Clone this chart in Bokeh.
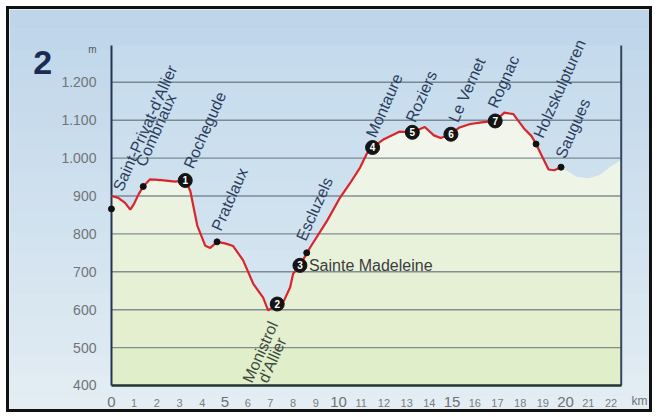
import numpy as np
from bokeh.plotting import figure
from bokeh.models import Range1d, FixedTicker, LinearAxis, Label, LabelSet, ColumnDataSource
from bokeh.core.properties import value
from bokeh.embed import file_html
from bokeh.resources import INLINE

# ---------------- data ----------------
stage_title = "2"
profile_km = [0.0, 0.3, 0.6, 0.83, 1.0, 1.2, 1.4, 1.7, 2.2, 2.8,
              3.25, 3.47, 3.78, 4.13, 4.35, 4.65, 5.0, 5.36, 5.8, 6.24,
              6.68, 6.9, 7.1, 7.3, 7.6, 7.87, 8.0, 8.3, 8.75, 9.5,
              10.07, 10.5, 10.95, 11.25, 11.5, 12.0, 12.7, 13.25, 13.8, 14.2,
              14.5, 14.95, 15.3, 15.8, 16.4, 16.9, 17.3, 17.7, 18.2, 18.5,
              18.7, 19.0, 19.25, 19.5, 19.8]
profile_elev = [900, 895, 882, 864, 880, 905, 925, 944, 942, 938,
                941, 914, 822, 769, 763, 779, 775, 768, 730, 669,
                632, 598, 606, 615, 624, 659, 695, 717, 764, 835,
                896, 933, 975, 1012, 1028, 1050, 1070, 1068, 1082, 1060,
                1053, 1063, 1080, 1090, 1095, 1098, 1120, 1116, 1076, 1058,
                1037, 1000, 970, 968, 976]
# terrain shading continuing after the end of the stage
tail_km = [20.0, 20.5, 21.0, 21.5, 22.0, 22.45]
tail_elev = [968, 950, 946, 955, 978, 995]

stage_numbers = ["1", "2", "3", "4", "5", "6", "7"]
stage_km = [3.25, 7.3, 8.3, 11.5, 13.25, 14.95, 16.9]
stage_elev = [941, 615, 717, 1028, 1068, 1063, 1098]

dot_km = [0.0, 1.4, 4.65, 8.6, 18.7, 19.8]
dot_elev = [866, 925, 779, 750, 1037, 976]

place_names = ["Saint-Privat-d'Allier", "Combriaux", "Rochegude", "Pratclaux",
               "Escluzels", "Montaure", "Roziers", "Le Vernet", "Rognac",
               "Holzskulpturen", "Saugues"]
place_km = [0.0, 1.4, 3.25, 4.65, 8.6, 11.5, 13.25, 14.95, 16.9, 18.7, 19.8]
place_elev = [866, 925, 941, 779, 750, 1028, 1068, 1063, 1098, 1037, 976]

madeleine_name = "Sainte Madeleine"
monistrol_lines = ["Monistrol", "d'Allier"]

x_ticks = list(range(0, 23))
x_big_ticks = [0, 5, 10, 15, 20]
x_small_ticks = [t for t in x_ticks if t not in x_big_ticks]
y_ticks = [400, 500, 600, 700, 800, 900, 1000, 1100, 1200]
y_tick_labels = ["400", "500", "600", "700", "800", "900", "1.000", "1.100", "1.200"]
Y_TOP = 1297          # top of the elevation scale
X_RIGHT = 22.45       # right edge of the diagram

# ---------------- layout / style ----------------
# the frame covers the whole canvas; axes are pinned inside it
X0, X1 = -4.49, 23.96
Y0, Y1 = 320.8, 1392.1
LABEL_ANGLE = np.deg2rad(66)
label_dx = [6, -3, 3, -1, -6, -2, -2, 2, -3, 2, -1]
label_dy = [19, 21, 13, 12, 13, 11, 11, 13, 14, 7, 10]
FONT = "Liberation Sans"


def hex2rgb(h):
    h = h.lstrip("#")
    return [int(h[i:i + 2], 16) for i in (0, 2, 4)]


def mix(c1, c2, t):
    a, b = hex2rgb(c1), hex2rgb(c2)
    return "#%02x%02x%02x" % tuple(int(round(x + (y - x) * t)) for x, y in zip(a, b))


p = figure(width=646, height=406, x_range=Range1d(X0, X1), y_range=Range1d(Y0, Y1),
           x_axis_location=None, y_axis_location=None,
           output_backend="svg", toolbar_location=None, min_border=0)
p.styles = {"border": "3px solid #111111", "margin": "6px 0px 0px 6px"}
p.background_fill_color = "#d4e4f0"
p.border_fill_color = "#d4e4f0"
p.outline_line_color = None
p.xgrid.visible = False
p.ygrid.visible = False

# outer sky gradient
edges = np.linspace(Y0, Y1, 21)
for i in range(len(edges) - 1):
    t = i / (len(edges) - 2)
    r = p.quad(left=X0, right=X1, bottom=edges[i], top=edges[i + 1],
               fill_color=mix("#e3edf3", "#bed5ea", t), line_color=None)
    r.level = "underlay"

# sky gradient inside the diagram
edges = np.linspace(400, Y_TOP, 16)
for i in range(len(edges) - 1):
    t = i / (len(edges) - 2)
    r = p.quad(left=0, right=X_RIGHT, bottom=edges[i], top=edges[i + 1],
               fill_color=mix("#dce9f1", "#c5dbed", t), line_color=None)
    r.level = "underlay"

# terrain fill (graded)
fill_km = np.array(profile_km + tail_km, dtype=float)
fill_elev = np.array(profile_elev + tail_elev, dtype=float)
levels = [Y_TOP, 1000, 900, 800, 700, 600, 500]
for i, lev in enumerate(levels):
    t = i / (len(levels) - 1)
    r = p.varea(x=fill_km, y1=400, y2=np.minimum(fill_elev, lev),
                fill_color=mix("#f1f5ec", "#e0eec9", t))
    r.level = "underlay"

# horizontal grid lines limited to the diagram
grid_y = y_ticks[1:]
p.segment(x0=[0] * len(grid_y), y0=grid_y, x1=[X_RIGHT] * len(grid_y), y1=grid_y,
          line_color="#5f6e76", line_alpha=0.75, line_width=1.4)
# right border line of the diagram
p.segment(x0=[X_RIGHT], y0=[400], x1=[X_RIGHT], y1=[Y_TOP], line_color="#34465e", line_width=2)

# axes pinned at the diagram origin
yax = LinearAxis(fixed_location=0, bounds=(400, Y_TOP), ticker=FixedTicker(ticks=y_ticks),
                 major_label_overrides={t: s for t, s in zip(y_ticks, y_tick_labels)},
                 major_label_text_font=FONT, major_label_text_font_size="14px",
                 major_label_text_color="#707478", major_tick_line_color=None,
                 minor_tick_line_color=None, major_label_standoff=9,
                 axis_line_color="#233553", axis_line_width=2)
p.add_layout(yax, "left")

xax_small = LinearAxis(fixed_location=400, bounds=(0, X_RIGHT),
                       ticker=FixedTicker(ticks=x_small_ticks),
                       major_label_text_font=FONT, major_label_text_font_size="11px",
                       major_label_text_color="#7a7e80", major_tick_line_color=None,
                       minor_tick_line_color=None, major_label_standoff=8,
                       axis_line_color="#23352f", axis_line_width=2.5)
p.add_layout(xax_small, "below")
xax_big = LinearAxis(fixed_location=400, bounds=(0, X_RIGHT),
                     ticker=FixedTicker(ticks=x_big_ticks),
                     major_label_text_font=FONT, major_label_text_font_size="15px",
                     major_label_text_color="#6e7274", major_tick_line_color=None,
                     minor_tick_line_color=None, major_label_standoff=6,
                     axis_line_color=None)
p.add_layout(xax_big, "below")

# profile line
line = p.line(profile_km, profile_elev, line_color="#d8252b", line_width=2.2)
line.level = "annotation"

dots = p.scatter(dot_km, dot_elev, size=6, fill_color="#111111", line_color="#111111")
dots.level = "annotation"

num = p.scatter(stage_km, stage_elev, size=14, fill_color="#141414", line_color="#141414")
num.level = "annotation"
num_src = ColumnDataSource(dict(x=stage_km, y=stage_elev, t=stage_numbers))
p.add_layout(LabelSet(x="x", y="y", text="t", source=num_src, text_align="center",
                      text_baseline="middle", text_font=value(FONT), text_font_size=value("10px"),
                      text_font_style="bold", text_color="white"))

# place names
place_src = ColumnDataSource(dict(x=place_km, y=place_elev, t=place_names,
                                  xo=label_dx, yo=label_dy))
p.add_layout(LabelSet(x="x", y="y", text="t", source=place_src, x_offset="xo", y_offset="yo",
                      angle=LABEL_ANGLE, text_align="left", text_baseline="middle",
                      text_font=value(FONT), text_font_size=value("16px"), text_color="#2c3d5c"))

p.add_layout(Label(x=stage_km[2], y=stage_elev[2], text=madeleine_name, x_offset=9,
                   text_align="left", text_baseline="middle", text_font=FONT,
                   text_font_size="16px", text_color="#3b3d3d"))

mon_src = ColumnDataSource(dict(x=[stage_km[1]] * 2, y=[stage_elev[1]] * 2, t=monistrol_lines,
                                xo=[-17, -5], yo=[-48, -56]))
p.add_layout(LabelSet(x="x", y="y", text="t", source=mon_src, x_offset="xo", y_offset="yo",
                      angle=LABEL_ANGLE, text_align="center", text_baseline="middle",
                      text_font=value(FONT), text_font_size=value("16px"), text_color="#3e4a40"))

# title number and units
p.add_layout(Label(x=-3.44, y=1252, text=stage_title, text_font=FONT, text_font_size="34px",
                   text_font_style="bold", text_color="#1b2c52", text_baseline="alphabetic"))
p.add_layout(Label(x=-0.84, y=1287, text="m", text_font=FONT, text_font_size="10px",
                   text_color="#555a60", text_align="center", text_baseline="middle"))
p.add_layout(Label(x=23.26, y=360, text="km", text_font=FONT, text_font_size="12px",
                   text_color="#6e7274", text_align="center", text_baseline="middle"))

open("out.html", "w").write(file_html(p, INLINE))
